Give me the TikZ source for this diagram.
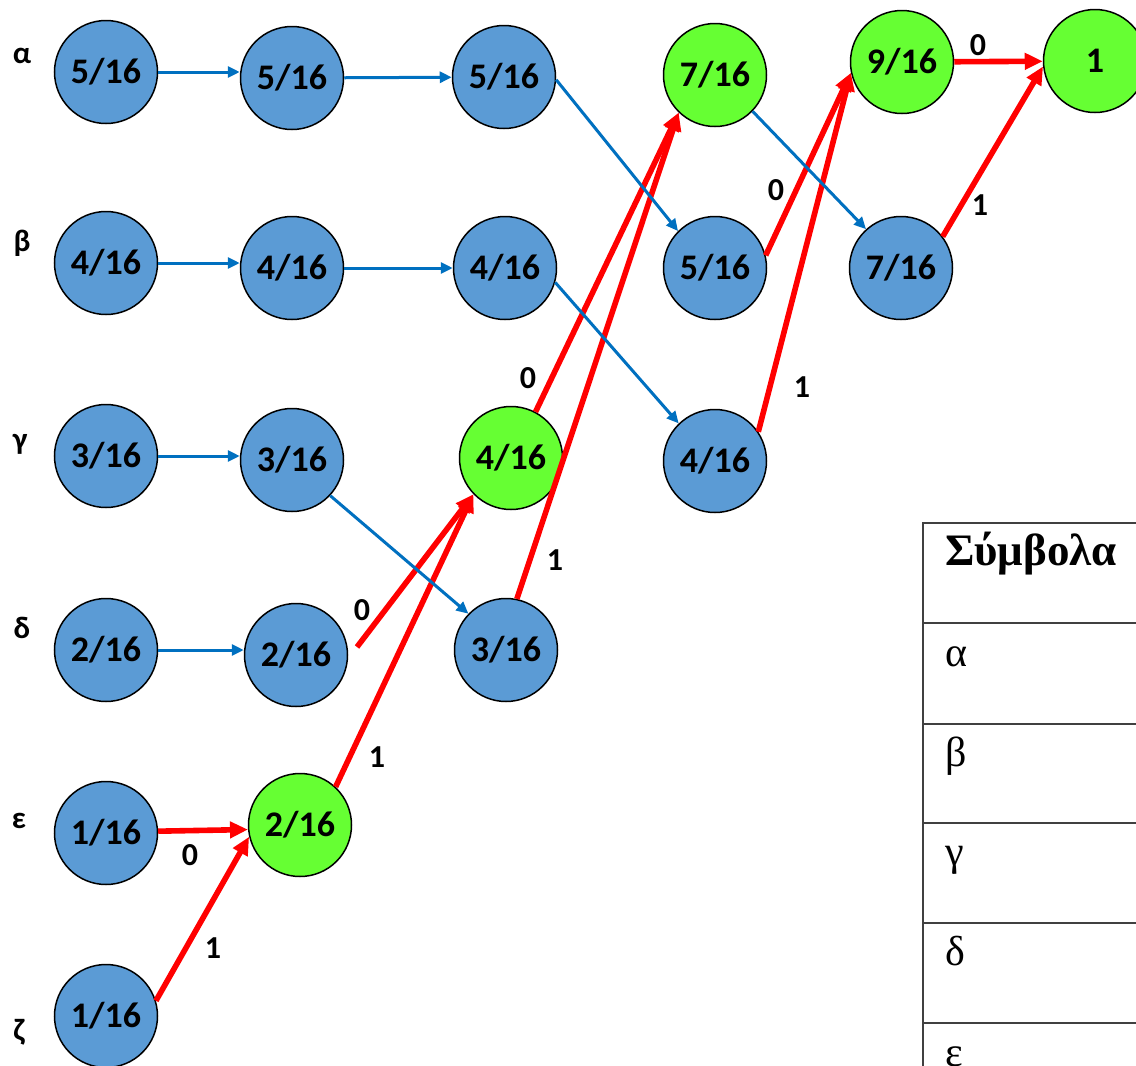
\documentclass[tikz,border=0pt]{standalone}
\usepackage{fontspec}
\setmainfont{Carlito}
\newfontfamily\tabfont{Liberation Serif}
\usetikzlibrary{arrows.meta}
\definecolor{nodeblue}{RGB}{91,155,213}
\definecolor{nodegreen}{RGB}{102,255,51}
\definecolor{edgeblue}{RGB}{0,112,192}
\definecolor{edgered}{RGB}{255,0,0}
\definecolor{tabline}{RGB}{64,64,64}
\begin{document}
\begin{tikzpicture}[x=1pt,y=-1pt,
  prob/.style={circle,draw=black,line width=1.5pt,minimum size=103pt,inner sep=0pt,
    font=\fontsize{36}{40}\selectfont\bfseries},
  pb/.style={prob,fill=nodeblue},
  pg/.style={prob,fill=nodegreen},
  sym/.style={font=\fontsize{31}{36}\selectfont\bfseries,anchor=base,inner sep=0pt},
  bit/.style={font=\fontsize{32}{36}\selectfont\bfseries,inner sep=0pt},
  bluearrow/.style={draw=edgeblue,line width=3pt,-{Triangle[length=12pt,width=11pt]}},
  redarrow/.style={draw=edgered,line width=5.6pt,-{Triangle[length=18pt,width=16pt]}},
  tabrule/.style={draw=tabline,line width=1.4pt},
  tabtext/.style={font=\tabfont\fontsize{42}{48}\selectfont,anchor=base west,inner sep=0pt}]
\fill[white] (0,0) rectangle (1136,1066);
\useasboundingbox (0,0) rectangle (1136,1066);

% symbol labels
\node[sym] (la) at (22,63) {α};
\node[sym] (lb) at (22,251) {β};
\node[sym] (lg) at (20,449) {γ};
\node[sym] (ld) at (22,638) {δ};
\node[sym] (le) at (19,828) {ε};
\node[sym] (lz) at (19,1040) {ζ};

% column 1
\node[pb] (a1) at (106,72) {5/16};
\node[pb] (b1) at (106,263) {4/16};
\node[pb] (g1) at (106,456) {3/16};
\node[pb] (d1) at (106,650) {2/16};
\node[pb] (e1) at (106,833) {1/16};
\node[pb] (z1) at (106,1016) {1/16};
% column 2
\node[pb] (a2) at (292,78) {5/16};
\node[pb] (b2) at (292,268) {4/16};
\node[pb] (g2) at (292,460) {3/16};
\node[pb] (d2) at (296,655) {2/16};
\node[pg] (e2) at (300,825) {2/16};
% column 3
\node[pb] (a3) at (504,77) {5/16};
\node[pb] (b3) at (505,268) {4/16};
\node[pg] (g3) at (511,458) {4/16};
\node[pb] (d3) at (506,650) {3/16};
% column 4
\node[pg] (a4) at (715,75) {7/16};
\node[pb] (b4) at (715,268) {5/16};
\node[pb] (c4) at (715,461) {4/16};
% column 5
\node[pg] (a5) at (902,62) {9/16};
\node[pb] (b5) at (901,268) {7/16};
% column 6
\node[pg] (a6) at (1095,61) {1};

\coordinate (d2s) at (357,647);

% red (code) edges
\draw[redarrow] (e1.2) -- (e2.185);
\draw[redarrow] (z1.17) -- (e2.193);
\draw[redarrow] (e2.47) -- (g3.224);
\draw[redarrow] (d2s) -- (g3.224);
\draw[redarrow] (g3.62) -- (a4.226);
\draw[redarrow] (d3.78) -- (a4.226);
\draw[redarrow] (b4.14) -- (a5.192);
\draw[redarrow] (c4.34) -- (a5.192);
\draw[redarrow] (a5) -- (a6);
\draw[redarrow] (b5.37) -- (a6.186);

% blue (carry) edges
\draw[bluearrow] (a1) -- (a1 -| a2.west);
\draw[bluearrow] (b1) -- (b1 -| b2.west);
\draw[bluearrow] (g1) -- (g1 -| g2.west);
\draw[bluearrow] (d1) -- (d1 -| d2.west);
\draw[bluearrow] (a2) -- (a3);
\draw[bluearrow] (b2) -- (b3);
\draw[bluearrow] (a3.-3) -- (b4.135);
\draw[bluearrow] (b3.-16) -- (c4.134);
\draw[bluearrow] (g2.-43) -- (d3.136);
\draw[bluearrow] (a4.-44) -- (b5.132);

% bit labels
\node[bit] (t1) at (190,855) {0};
\node[bit] (t2) at (213,948) {1};
\node[bit] (t3) at (377,757) {1};
\node[bit] (t4) at (362,610) {0};
\node[bit] (t5) at (528,378) {0};
\node[bit] (t6) at (555,560) {1};
\node[bit] (t7) at (776,190) {0};
\node[bit] (t8) at (802,387) {1};
\node[bit] (t9) at (978,45) {0};
\node[bit] (t10) at (980,205) {1};

% table
\draw[tabrule] (923,1066) -- (923,523) -- (1136,523);
\foreach \yy in {623,724,823,923,1023} \draw[tabrule] (923,\yy) -- (1136,\yy);
\node[tabtext,font=\tabfont\bfseries\fontsize{45}{50}\selectfont] (th) at (945,565) {Σύμβολα};
\node[tabtext] (r1) at (945,666) {α};
\node[tabtext] (r2) at (945,766) {β};
\node[tabtext] (r3) at (945,865) {γ};
\node[tabtext] (r4) at (945,965) {δ};
\node[tabtext] (r5) at (945,1066) {ε};
\end{tikzpicture}
\end{document}
